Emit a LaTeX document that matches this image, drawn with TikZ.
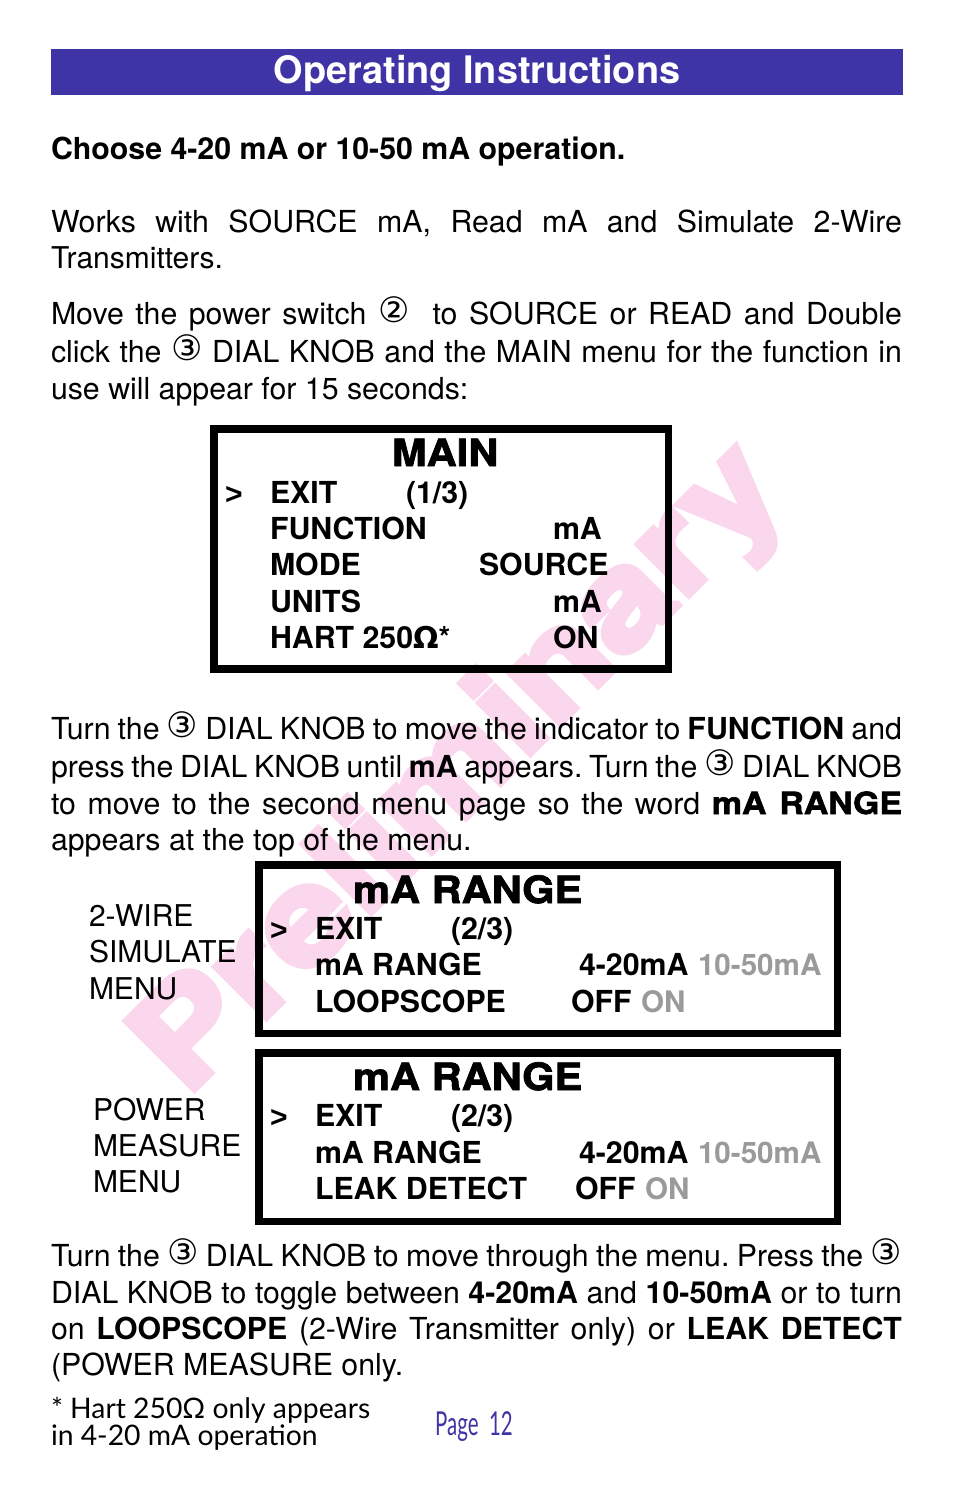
\documentclass[tikz,border=0pt]{standalone}
\usepackage{fontspec}
\setmainfont{TeX Gyre Heros}
\newfontfamily\blk[FakeBold=2,FakeStretch=1.11]{TeX Gyre Heros Bold}
\newfontfamily\wmf[FakeBold=5,FakeStretch=1.17]{TeX Gyre Heros Bold}
\newfontfamily\djv{DejaVu Sans}
\newfontfamily\gillf{Lato}
\newfontfamily\libf{Liberation Sans}
\definecolor{bannerblue}{HTML}{3F34A6}
\definecolor{wmpink}{HTML}{FBD7EE}
\definecolor{offgray}{HTML}{9A9A9A}
\newcommand{\fs}[1]{\fontsize{#1}{#1}\selectfont}
\newcommand{\cn}[1]{\raisebox{2pt}{\djv\fs{35}#1}}
\newcommand{\bk}[1]{{\blk\fs{30.5}#1}}
\newcommand{\jl}[1]{\makebox[851pt][s]{\frenchspacing #1}}
\tikzset{x=1pt,y=-1pt,
 txt/.style={anchor=base west,inner sep=0pt,outer sep=0pt,font=\fs{30.3}},
 lbl/.style={anchor=base west,inner sep=0pt,outer sep=0pt,font=\fs{30}},
 btxt/.style={anchor=base west,inner sep=0pt,outer sep=0pt,font=\bfseries\fs{30.3}},
 hd/.style={anchor=base west,inner sep=0pt,outer sep=0pt,font=\blk\fs{37.5}},
 gr/.style={btxt,text=offgray,font=\bfseries\fs{29.6}},
 ptr/.style={anchor=base west,inner sep=0pt,outer sep=0pt,font=\libf\bfseries\fs{30}},
 foot/.style={anchor=base west,inner sep=0pt,outer sep=0pt,font=\gillf\fs{28.3}},
 lcd/.style={draw=black,line width=7.5pt,fill=none}}
\begin{document}
\begin{tikzpicture}
\useasboundingbox (0,0) rectangle (954,1500);
\fill[white] (0,0) rectangle (954,1500);
% watermark
\node[rotate=45,anchor=base west,inner sep=0pt,text=wmpink,font=\wmf\fs{133}] (wm) at (186,1098) {Preliminary};
% banner
\fill[bannerblue] (51,49) rectangle (903,95);
\node[anchor=base,inner sep=0pt,text=white,font=\bfseries\fs{37.9}] (title) at (477,83) {Operating Instructions};
\node[btxt] (choose) at (51,159) {Choose 4-20 mA or 10-50 mA operation.};
\node[txt] (p1a) at (51,232) {\jl{Works with SOURCE mA, Read mA and Simulate 2-Wire}};
\node[lbl] (p1b) at (51,268) {Transmitters.};
\node[txt] (p2a) at (51,324) {\jl{Move the power switch \cn{②} \ to SOURCE or READ and Double}};
\node[txt] (p2b) at (51,362) {\jl{click the \cn{③} DIAL KNOB and the MAIN menu for the function in}};
\node[txt] (p2c) at (51,399) {use will appear for 15 seconds:};
% MAIN box
\draw[lcd] (213.75,429) rectangle (668.25,669);
\node[hd] (m0) at (392,466) {MAIN};
\node[ptr] (m1) at (225,504) {>};
\node[btxt] (m2) at (270,503.5) {EXIT};
\node[btxt] (m3) at (406,503.5) {(1/3)};
\node[btxt] (m4) at (270,539.5) {FUNCTION};
\node[btxt] (m5) at (553,539.5) {mA};
\node[btxt] (m6) at (270,575.5) {MODE};
\node[btxt] (m7) at (479,575.5) {SOURCE};
\node[btxt] (m8) at (270,612) {UNITS};
\node[btxt] (m9) at (553,612) {mA};
\node[btxt] (m10) at (270,648.5) {HART 250{\djv\bfseries\fs{30}Ω}*};
\node[btxt] (m11) at (553,648.5) {ON};
% paragraph
\node[txt] (q1) at (51,739) {\jl{Turn the \cn{③} DIAL KNOB to move the indicator to \textbf{FUNCTION} and}};
\node[txt] (q2) at (51,777) {\jl{press the DIAL KNOB until \textbf{mA} appears. Turn the \cn{③} DIAL KNOB}};
\node[txt] (q3) at (51,814) {\jl{to move to the second menu page so the word \bk{mA RANGE}}};
\node[txt] (q4) at (51,850) {appears at the top of the menu.};
% 2-wire
\node[lbl] (w1) at (89,926) {2-WIRE};
\node[lbl] (w2) at (89,962) {SIMULATE};
\node[lbl] (w3) at (89,999) {MENU};
\draw[lcd] (258.75,864.75) rectangle (837.25,1033.25);
\node[hd] (a0) at (353,903) {mA RANGE};
\node[ptr] (a1) at (270,940) {>};
\node[btxt] (a2) at (315,939.5) {EXIT};
\node[btxt] (a3) at (451,939.5) {(2/3)};
\node[btxt] (a4) at (315,975.5) {mA RANGE};
\node[btxt] (a5) at (579,975.5) {4-20mA};
\node[gr] (a6) at (698,975.5) {10-50mA};
\node[btxt] (a7) at (315,1012) {LOOPSCOPE};
\node[btxt] (a8) at (571,1012) {OFF};
\node[gr] (a9) at (641,1012) {ON};
% power
\node[lbl] (r1) at (93,1120) {POWER};
\node[lbl] (r2) at (93,1156) {MEASURE};
\node[lbl] (r3) at (93,1192) {MENU};
\draw[lcd] (258.75,1052.75) rectangle (837.25,1221.25);
\node[hd] (b0) at (353,1090) {mA RANGE};
\node[ptr] (b1) at (270,1127) {>};
\node[btxt] (b2) at (315,1126.5) {EXIT};
\node[btxt] (b3) at (451,1126.5) {(2/3)};
\node[btxt] (b4) at (315,1163.5) {mA RANGE};
\node[btxt] (b5) at (579,1163.5) {4-20mA};
\node[gr] (b6) at (698,1163.5) {10-50mA};
\node[btxt] (b7) at (315,1199.5) {LEAK DETECT};
\node[btxt] (b8) at (575,1199.5) {OFF};
\node[gr] (b9) at (645,1199.5) {ON};
% last paragraph
\node[txt] (s1) at (51,1266) {\jl{Turn the \cn{③} DIAL KNOB to move through the menu. Press the \cn{③}}};
\node[txt] (s2) at (51,1303) {\jl{DIAL KNOB to toggle between \textbf{4-20mA} and \textbf{10-50mA} or to turn}};
\node[txt] (s3) at (51,1339) {\jl{on \textbf{LOOPSCOPE} (2-Wire Transmitter only) or \textbf{LEAK DETECT}}};
\node[txt] (s4) at (51,1375) {(POWER MEASURE only.};
% footnote
\node[foot] (f1) at (51,1418) {* Hart 250Ω only appears};
\node[foot] (f2) at (51,1445) {in 4-20 mA operation};
\node[anchor=base west,inner sep=0pt,text=bannerblue,font=\gillf\fs{33}] (pg) at (435,1435) {\scalebox{0.62}[1]{Page\ \ 12}};
\end{tikzpicture}
\end{document}
